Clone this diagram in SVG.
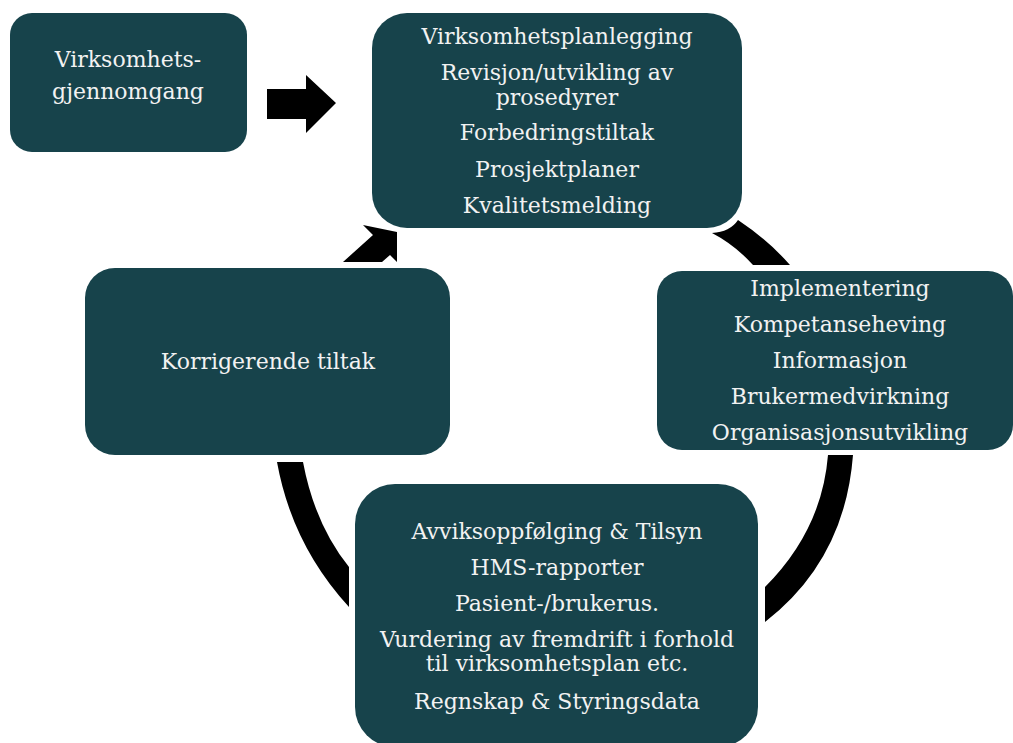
<svg xmlns="http://www.w3.org/2000/svg" width="1013" height="743" viewBox="0 0 1013 743">
<style>
.box{fill:#17434b;}
.t{font-family:"DejaVu Serif","Liberation Serif",serif;font-size:22px;fill:#f2f2f2;text-anchor:middle;}
.arr{fill:#000;}
</style>
<rect width="1013" height="743" fill="#fff"/>
<g id="connectors">
<polygon class="arr" points="267,89 306,89 306,75 336,103 306,133 306,119 267,119"/>
<path class="arr" d="M343,262 L373,235 L363,225 L397,232 L397,262 L390,255 L382,262 Z"/>
<path class="arr" d="M712,233 Q730,232 738,220 Q768,240 790,265 L753,265 Q735,245 712,233 Z"/>
<path class="arr" d="M277,462 L303,462 Q315,525 349,567 L349,607 Q292,545 277,462 Z"/>
<path class="arr" d="M828,455 L853,455 Q845,560 765,622 L765,587 Q822,530 828,455 Z"/>
</g>
<g id="node-gjennomgang">
<rect class="box" x="10" y="13" width="237" height="139" rx="22"/>
<text class="t" x="128" y="67">Virksomhets-</text>
<text class="t" x="128" y="99">gjennomgang</text>
</g>
<g id="node-planlegging">
<rect class="box" x="372" y="13" width="370" height="215" rx="35"/>
<text class="t" x="557" y="44">Virksomhetsplanlegging</text>
<text class="t" x="557" y="80">Revisjon/utvikling av</text>
<text class="t" x="557" y="105">prosedyrer</text>
<text class="t" x="557" y="140">Forbedringstiltak</text>
<text class="t" x="557" y="177">Prosjektplaner</text>
<text class="t" x="557" y="213">Kvalitetsmelding</text>
</g>
<g id="node-implementering">
<rect class="box" x="657" y="271" width="356" height="179" rx="25"/>
<text class="t" x="840" y="296">Implementering</text>
<text class="t" x="840" y="332">Kompetanseheving</text>
<text class="t" x="840" y="368">Informasjon</text>
<text class="t" x="840" y="404">Brukermedvirkning</text>
<text class="t" x="840" y="440">Organisasjonsutvikling</text>
</g>
<g id="node-avvik">
<rect class="box" x="355" y="484" width="403" height="263" rx="40"/>
<text class="t" x="557" y="539">Avviksoppfølging &amp; Tilsyn</text>
<text class="t" x="557" y="575">HMS-rapporter</text>
<text class="t" x="557" y="611">Pasient-/brukerus.</text>
<text class="t" x="557" y="647">Vurdering av fremdrift i forhold</text>
<text class="t" x="557" y="671">til virksomhetsplan etc.</text>
<text class="t" x="557" y="709">Regnskap &amp; Styringsdata</text>
</g>
<g id="node-korrigerende">
<rect class="box" x="85" y="268" width="365" height="187" rx="30"/>
<text class="t" x="268" y="369">Korrigerende tiltak</text>
</g>
</svg>
